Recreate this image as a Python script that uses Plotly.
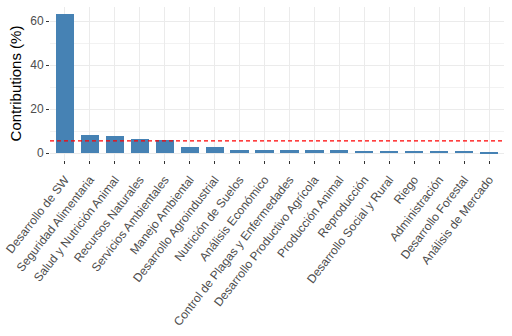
import plotly.graph_objects as go

# Contribution of each area (%), sorted descending
categories = [
    "Desarrollo de SW",
    "Seguridad Alimentaria",
    "Salud y Nutrición Animal",
    "Recursos Naturales",
    "Servicios Ambientales",
    "Manejo Ambiental",
    "Desarrollo Agroindustrial",
    "Nutrición de Suelos",
    "Análisis Económico",
    "Control de Plagas y Enfermedades",
    "Desarrollo Productivo Agrícola",
    "Producción Animal",
    "Reproducción",
    "Desarrollo Social y Rural",
    "Riego",
    "Administración",
    "Desarrollo Forestal",
    "Análisis de Mercado",
]
contributions = [63.2, 8.3, 7.7, 6.6, 6.1, 2.6, 2.6, 1.5, 1.5,
                 1.6, 1.6, 1.6, 1.1, 1.1, 1.1, 1.1, 1.1, 0.5]

# Expected average contribution if all areas were uniform
expected = 100 / len(categories)

FONT = "Liberation Sans, Arial, sans-serif"
TEXT_GREY = "#4D4D4D"
GRID = "#EBEBEB"

fig = go.Figure(
    go.Bar(
        x=categories,
        y=contributions,
        width=0.73,
        marker=dict(color="#4682B4", line=dict(width=0)),
    )
)

ymax = max(contributions)
pad = ymax * 0.05

fig.add_shape(
    type="line",
    xref="paper", yref="y",
    x0=0, x1=1, y0=expected, y1=expected,
    line=dict(color="red", width=1.2, dash="4px,3px"),
)

fig.update_layout(
    width=512,
    height=336,
    margin=dict(l=50, r=8, t=7, b=176),
    paper_bgcolor="white",
    plot_bgcolor="white",
    showlegend=False,
    bargap=0,
    font=dict(family=FONT, color=TEXT_GREY),
)

fig.update_xaxes(
    type="category",
    range=[-0.6, len(categories) - 0.4],
    showgrid=True,
    gridcolor=GRID,
    gridwidth=1,
    ticks="outside",
    ticklen=3,
    tickwidth=1,
    tickcolor="#333333",
    tickangle=-52,
    ticklabelstandoff=4,
    tickfont=dict(family=FONT, size=12, color=TEXT_GREY),
    showline=False,
    zeroline=False,
    automargin=False,
)

fig.update_yaxes(
    range=[-pad, ymax + pad],
    tickvals=[0, 20, 40, 60],
    showgrid=True,
    gridcolor=GRID,
    gridwidth=1.1,
    minor=dict(tickvals=[10, 30, 50], showgrid=True, gridcolor="#F2F2F2", gridwidth=0.6, ticks=""),
    ticks="outside",
    ticklen=3,
    tickwidth=1,
    tickcolor="#333333",
    tickfont=dict(family=FONT, size=12, color=TEXT_GREY),
    title=dict(text="Contributions (%)", font=dict(family=FONT, size=15, color="black"), standoff=4),
    zeroline=False,
    showline=False,
    automargin=False,
)

fig.write_html("out.html")
